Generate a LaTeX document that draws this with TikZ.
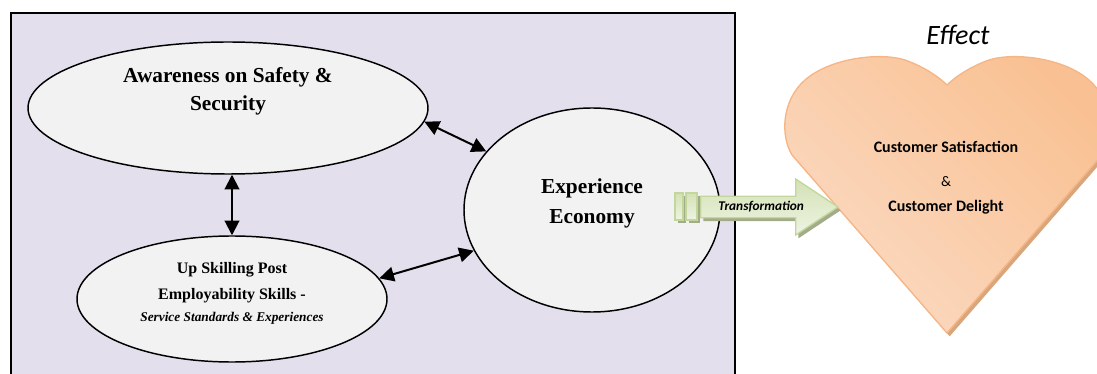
\documentclass[tikz,border=0pt]{standalone}
\usepackage{fontspec}
\setmainfont{Liberation Serif}
\newfontfamily\calibri{Carlito}
\usepackage{tikz}
\usetikzlibrary{arrows.meta,positioning,shapes.geometric,shapes.arrows,shadows}
\definecolor{panelLilac}{HTML}{E4DFEC}
\definecolor{bubbleGray}{HTML}{F2F2F2}
\definecolor{arrowEdge}{HTML}{C3D69B}
\definecolor{arrowTop}{HTML}{D3E1B5}
\definecolor{arrowBottom}{HTML}{EEF4E3}
\definecolor{arrowShade}{HTML}{A3AC88}
\definecolor{heartEdge}{HTML}{F6B585}
\definecolor{heartLight}{HTML}{FDE8D9}
\definecolor{heartDark}{HTML}{F9C193}
\definecolor{heartLow}{HTML}{FBDAC2}
\definecolor{heartShade}{HTML}{D9A67C}

\begin{document}
\begin{tikzpicture}[
  x=0.75pt, y=-0.75pt,
  concept/.style={
    draw=black,
    line width=1.1pt,
    ellipse,
    fill=bubbleGray,
    inner sep=0pt
  },
  conceptText/.style={align=center, font=\bfseries},
  link/.style={{Triangle[length=11pt,width=11pt]}-{Triangle[length=11pt,width=11pt]},line width=1.5pt},
  heartText/.style={font=\calibri\bfseries\fontsize{12}{14}\selectfont},
  transarrow/.style={
    single arrow,
    draw=arrowEdge,
    line width=1pt,
    top color=arrowTop,
    bottom color=arrowBottom,
    minimum height=103pt,
    minimum width=42pt,
    single arrow head extend=10.5pt,
    single arrow tip angle=67,
    inner sep=2pt,
    font=\calibri\bfseries\itshape\fontsize{10}{12}\selectfont,
    drop shadow={shadow xshift=2pt,shadow yshift=-2.5pt,fill=arrowShade,opacity=1}
  },
  bar/.style={draw=arrowEdge,line width=0.8pt,top color=arrowTop,bottom color=arrowBottom,
    drop shadow={shadow xshift=2pt,shadow yshift=-2.5pt,fill=arrowShade,opacity=1}}
]
\useasboundingbox (0,0) rectangle (1097,374);

% left panel
\draw[line width=1.1pt,fill=panelLilac] (11,13) rectangle (735,380);

% the three concepts
\node[concept,minimum width=300pt,minimum height=99pt] (aware) at (228,108) {};
\node[concept,minimum width=232.5pt,minimum height=94.5pt] (upsk) at (232,299) {};
\node[concept,minimum width=192pt,minimum height=153pt] (exper) at (592,210) {};

\node[conceptText,font=\bfseries\fontsize{16}{21}\selectfont] (awareText) at (228,91)
  {Awareness on Safety \&\\Security};
\node[conceptText,font=\bfseries\fontsize{12}{19.5}\selectfont] (upskText) at (232,293)
  {Up Skilling Post\\Employability Skills -\\[-3pt]{\itshape\fontsize{10}{12}\selectfont Service Standards \& Experiences}};
\node[conceptText,font=\bfseries\fontsize{16}{22.5}\selectfont] (experText) at (592,203)
  {Experience\\Economy};

\draw[link] (aware.-4) -- (exper.151);
\draw[link] (upsk.north |- aware.south) -- (upsk.north);
\draw[link] (upsk.8) -- (exper.199);

% heart
\shade[draw=heartEdge,line width=1pt,left color=heartLow,middle color=heartLight,right color=heartDark,
  shading angle=135,
  drop shadow={shadow xshift=2pt,shadow yshift=-2.5pt,fill=heartShade,opacity=1}]
  (947,333) -- (792,155)
  .. controls (780,135) and (782,100) .. (805,80)
  .. controls (830,58) and (880,52) .. (905,60)
  .. controls (925,67) and (940,78) .. (947,85)
  .. controls (954,78) and (969,67) .. (989,60)
  .. controls (1014,52) and (1064,58) .. (1089,80)
  .. controls (1112,100) and (1114,135) .. (1102,155) -- cycle;

\node[font=\calibri\itshape\fontsize{21}{25}\selectfont] (effect) at (958,35) {Effect};
\node[heartText] (satisfaction) at (946,147) {Customer Satisfaction};
\node[font=\calibri\fontsize{11}{13}\selectfont] (amp) at (946,182) {\&};
\node[heartText] (delight) at (946,207) {Customer Delight};

% transformation arrow
\path[bar] (675,193) rectangle (683,220);
\path[bar] (686,193) rectangle (697,220);
\node[transarrow,anchor=tail] (trans) at (700,207) {Transformation};
\end{tikzpicture}
\end{document}
